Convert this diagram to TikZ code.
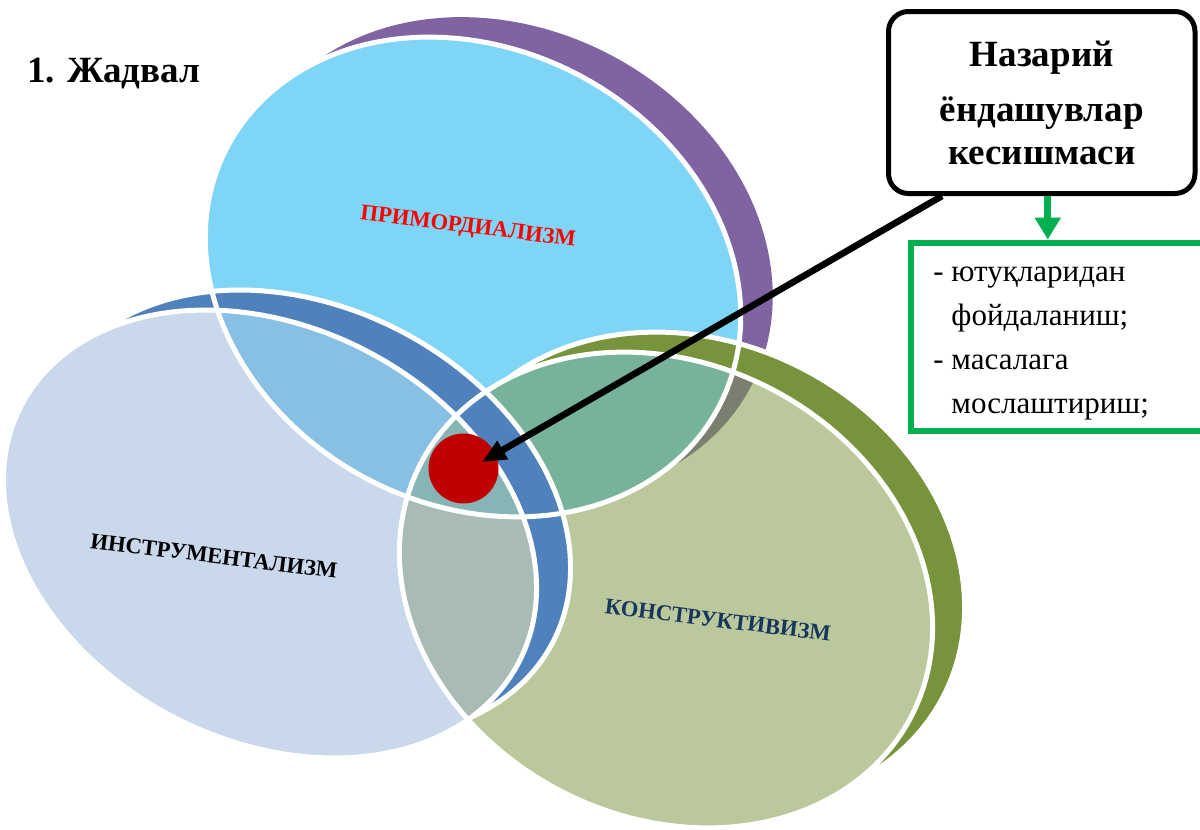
\documentclass[tikz,border=0pt]{standalone}
\usepackage{fontspec}
\setmainfont{Liberation Serif}
\usetikzlibrary{arrows.meta}
\definecolor{cT}{HTML}{7ED5F6}
\definecolor{cL}{HTML}{C9D8EB}
\definecolor{cR}{HTML}{BBC89B}
\definecolor{cTL}{HTML}{88C0E3}
\definecolor{cTR}{HTML}{77B39A}
\definecolor{cLR}{HTML}{A8BBB6}
\definecolor{cTLR}{HTML}{87B4B4}
\definecolor{cPR}{HTML}{7B7F6F}
\definecolor{cP}{HTML}{8064A2}
\definecolor{cB}{HTML}{4F81BD}
\definecolor{cO}{HTML}{77933C}
\definecolor{cDot}{HTML}{C00000}
\definecolor{cRed}{HTML}{FF0000}
\definecolor{cNavy}{HTML}{17365D}
\definecolor{cG}{HTML}{00B050}
\newcommand\ELL[5]{plot[domain=0:360,samples=145,variable=\x]({#1+#3*cos(\x)*cos(#5)-#4*sin(\x)*sin(#5)},{#2+#3*cos(\x)*sin(#5)+#4*sin(\x)*cos(#5)}) -- cycle}
\newcommand\ellT{\ELL{473}{277}{278}{228}{28}}
\newcommand\outT{\ELL{505}{257}{278}{228}{28}}
\newcommand\ellL{\ELL{270}{534}{280}{207}{27}}
\newcommand\outL{\ELL{304}{514}{280}{207}{27}}
\newcommand\ellR{\ELL{666}{590}{276}{227}{27}}
\newcommand\outR{\ELL{698}{570}{276}{227}{27}}
\tikzset{
  outline/.style={draw=white, line width=2.5pt},
  lbl/.style={font=\fontsize{11.3}{13}\bfseries\selectfont, rotate=-7, inner sep=0pt},
}
\begin{document}
\begin{tikzpicture}[x=0.5pt,y=-0.5pt]
\useasboundingbox (0,0) rectangle (1200,830);
% top set (purple band behind)
\fill[cP] \outT;
\fill[cT] \ellT;
% right set: olive band over the top set
\fill[cO] \outR; \draw[outline] \outR;
\fill[cR] \ellR;
\begin{scope}\clip \ellR; \fill[cPR] \outT; \end{scope}
\begin{scope}\clip \ellT; \fill[cTR] \ellR; \end{scope}
% left set: blue band over the others
\fill[cB] \outL; \draw[outline] \outL;
\fill[cL] \ellL;
\begin{scope}\clip \ellT; \fill[cTL] \ellL; \end{scope}
\begin{scope}\clip \ellL; \fill[cLR] \ellR; \clip \ellT; \fill[cTLR] \ellR; \end{scope}
% white rims
\draw[outline] \ellT;
\draw[outline] \ellL;
\draw[outline] \ellR;
% labels
\node[lbl, text=cRed] (prim) at (468,228) {ПРИМОРДИАЛИЗМ};
\node[lbl, text=black] (instr) at (214,556) {ИНСТРУМЕНТАЛИЗМ};
\node[lbl, text=cNavy] (konstr) at (718,620) {КОНСТРУКТИВИЗМ};
\node[circle, fill=cDot, minimum size=35pt, inner sep=0pt] (dot) at (463.5,468.5) {};
\node[anchor=base west, font=\fontsize{18.5}{20}\bfseries\selectfont, inner sep=0pt] (title) at (27,83) {1. Жадвал};
% callout
\node[draw=black, line width=2.5pt, rounded corners=10pt, minimum width=153.25pt, minimum height=91pt, align=center, inner sep=0pt, font=\fontsize{18.5}{21.5}\bfseries\selectfont] (callout) at (1041.75,102.5) {Назарий\\[6pt]ёндашувлар\\кесишмаси};
\node[draw=cG, line width=3pt, minimum width=150pt, minimum height=94.25pt, inner sep=0pt] (gbox) at (1061,336.75) {};
\node[anchor=base west, align=left, inner sep=0pt, font=\fontsize{15.5}{22}\selectfont] (glist) at (933,413) {- ютуқларидан\\\phantom{- }фойдаланиш;\\- масалага\\\phantom{- }мослаштириш;};
\coordinate (cstart) at ([xshift=28pt]callout.south west);
\coordinate (tip) at ([shift={(9.25pt,3.25pt)}]dot.center);
\draw[line width=3.3pt, -{Triangle[length=12pt,width=10pt]}] (cstart) -- (tip);
\coordinate (ga) at ([xshift=3pt]callout.south);
\draw[cG, line width=3.5pt, -{Triangle[length=11pt,width=12.5pt]}] (ga) -- (ga |- gbox.north);
\end{tikzpicture}
\end{document}
